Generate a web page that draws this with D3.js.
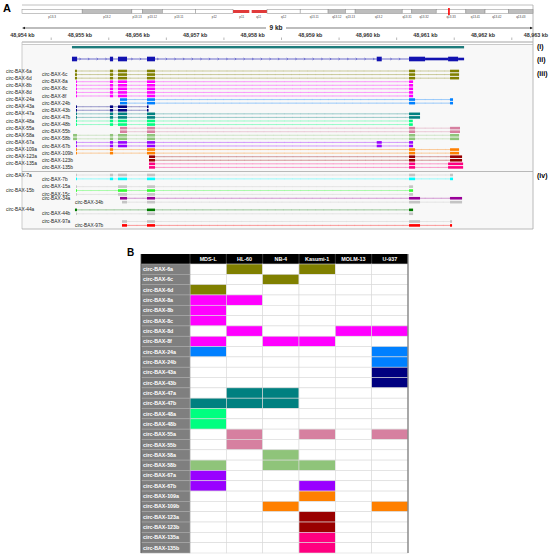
<!DOCTYPE html>
<html>
<head>
<meta charset="utf-8">
<script src="https://cdn.jsdelivr.net/npm/d3@7"></script>
<style>
body { margin: 0; background: #fff; }
svg text { font-family: Arial, "Liberation Sans", sans-serif; }
</style>
</head>
<body>
<div id="fig"></div>
<script>
// genomic window, chr19 (bp)
const base = 48954000;
const kbTicks = [48954, 48955, 48956, 48957, 48958, 48959, 48960, 48961, 48962, 48963];

// chr19 ideogram bands (Mb)
const bandNames = ['p13.3','p13.2','p13.13','p13.12','p13.11','p12','p11','q11','q12','q13.11','q13.12','q13.13','q13.2','q13.31','q13.32','q13.33','q13.41','q13.42','q13.43'];
const bandEnds = [6.9, 12.6, 13.8, 16.1, 19.9, 24.2, 26.2, 28.1, 31.9, 35.1, 37.1, 38.2, 43.6, 44.7, 47.5, 50.9, 53.1, 55.8, 58.6];
const bandStain = ['w','g','w','g','w','w','c','c','w','w','g','w','g','w','g','w','g','w','g'];
const baxMb = 48.96;

// BAX gene model, offsets from base (bp), 1 = coding, 0 = UTR
const geneBlocks = [[861, 950, 1], [1520, 1575, 1], [1660, 1817, 1], [2164, 2303, 1], [6154, 6241, 1],
                    [6715, 6993, 1], [6993, 7393, 0], [7393, 7567, 1], [7567, 7671, 0]];
const geneSpan = [861, 7671];

// circRNA isoforms (track iii), same order as table
const isoNames = ['circ-BAX-6a','circ-BAX-6c','circ-BAX-6d','circ-BAX-8a','circ-BAX-8b','circ-BAX-8c','circ-BAX-8d','circ-BAX-8f',
  'circ-BAX-24a','circ-BAX-24b','circ-BAX-43a','circ-BAX-43b','circ-BAX-47a','circ-BAX-47b','circ-BAX-48a','circ-BAX-48b',
  'circ-BAX-55a','circ-BAX-55b','circ-BAX-58a','circ-BAX-58b','circ-BAX-67a','circ-BAX-67b','circ-BAX-109a','circ-BAX-109b',
  'circ-BAX-123a','circ-BAX-123b','circ-BAX-135a','circ-BAX-135b'];
const groupIds = ['6','8','24','43','47','48','55','58','67','109','123','135'];
const groupColors = ['#808000','#ff00ff','#0080ff','#000080','#008080','#00ff80','#d680a0','#8fc47a','#9900ff','#ff8000','#990000','#ff0080'];
const groupExons = [
  [[913, 948], [1520, 1575], [1660, 1817], [2164, 2303], [6715, 6820], [7427, 7584]],
  [[931, 948], [1520, 1575], [1660, 1817], [2164, 2303], [6715, 6785]],
  [[1695, 1817], [2164, 2303], [6715, 6820], [7427, 7479]],
  [[931, 948], [1520, 1575], [1660, 1817], [2164, 2190]],
  [[931, 948], [1520, 1575], [1660, 1817], [2164, 2303], [6715, 6906]],
  [[931, 948], [1520, 1575], [1660, 1817], [2164, 2303], [6715, 6780]],
  [[1695, 1817], [2164, 2303], [6715, 6820], [7427, 7600]],
  [[880, 948], [1520, 1575], [1660, 1817], [2164, 2303], [6715, 6820], [7427, 7584]],
  [[931, 948], [1520, 1575], [1660, 1817], [2164, 2303], [6154, 6241], [6715, 6785]],
  [[931, 948], [1520, 1575], [2164, 2303], [6715, 6820], [7427, 7584]],
  [[2199, 2303], [6715, 6820], [7427, 7636]],
  [[2199, 2303], [6715, 6820], [7393, 7654]]
];

// track iv isoforms
const ivNames = ['circ-BAX-7a','circ-BAX-7b','circ-BAX-15a','circ-BAX-15b','circ-BAX-15c','circ-BAX-34a','circ-BAX-34b',
  'circ-BAX-44a','circ-BAX-44b','circ-BAX-97a','circ-BAX-97b'];
const ivGroup = ['7','7','15','15','15','34','34','44','44','97','97'];
const ivSub = [0, 1, 0, 1, 2, 0, 1, 0, 1, 0, 1];
const ivColors = ['#c4c4c4','#00ffff','#c4c4c4','#33ff33','#c4c4c4','#990099','#c4c4c4','#007a00','#c4c4c4','#c4c4c4','#ff0000'];
const ivExons = [
  [[931, 948], [1520, 1575], [1660, 1817], [2164, 2303], [6715, 6820], [7427, 7479]],
  [[931, 948], [1520, 1575], [1660, 1817], [2164, 2303], [6715, 6820], [7427, 7479]],
  [[931, 948], [1660, 1817], [2164, 2303], [6715, 6785]],
  [[931, 948], [1660, 1817], [2164, 2303], [6715, 6785]],
  [[931, 948], [1660, 1817], [2164, 2303], [6715, 6785]],
  [[1695, 1817], [2164, 2303], [6715, 6906], [7427, 7636]],
  [[1730, 1817], [2164, 2303], [6715, 6906], [7427, 7636]],
  [[913, 948], [2164, 2303], [6715, 6785]],
  [[931, 948], [2164, 2303], [6715, 6785]],
  [[1730, 1817], [2164, 2303], [6715, 6906], [7427, 7462]],
  [[1730, 1817], [2164, 2303], [6715, 6906], [7427, 7462]]
];

// panel B: detected isoforms per cell line
const cellLines = ['MDS-L','HL-60','NB-4','Kasumi-1','MOLM-13','U-937'];
const exprMDSL = ['6d','8a','8b','8c','8f','24a','47b','48a','48b','58b','67a','67b'];
const exprHL60 = ['6a','8a','8d','47a','47b','55a','55b'];
const exprNB4 = ['6c','8f','47a','47b','58a','58b','109b'];
const exprKasumi = ['6a','8f','55a','58b','67b','109a','123a','123b','135a','135b'];
const exprMOLM13 = ['8d'];
const exprU937 = ['8d','24a','24b','43a','43b','55a','109b'];
const expressed = [exprMDSL, exprHL60, exprNB4, exprKasumi, exprMOLM13, exprU937];

const w = 550, h = 556;
const svg = d3.select('#fig').append('svg').attr('width', w).attr('height', h);

const xg = d3.scaleLinear().domain([base, base + 9000]).range([22.4, 540.6]);
const xc = d3.scaleLinear().domain([0, 58.6]).range([22, 533]);
const gx = d => xg(base + d);
const isoSuffix = n => n.replace('circ-BAX-', '');
const groupOf = n => isoSuffix(n).replace(/[a-z]$/, '');
const colorOf = n => groupColors[groupIds.indexOf(groupOf(n))];

// ---------- panel A ----------
svg.append('text').attr('x', 3).attr('y', 12).attr('font-size', 11).attr('font-weight', 'bold').text('A');

// frame + track background
svg.append('rect').attr('x', 22).attr('y', 45).attr('width', 511).attr('height', 184).attr('fill', '#f8f8f8');
svg.append('line').attr('x1', 22).attr('x2', 533).attr('y1', 5).attr('y2', 5).attr('stroke', '#b0b0b0').attr('stroke-width', 0.8);
[42, 44.5].forEach((y, i) => svg.append('line').attr('x1', 22).attr('x2', 533).attr('y1', y).attr('y2', y)
  .attr('stroke', i ? '#c4c4c4' : '#9a9a9a').attr('stroke-width', 0.9));
svg.append('line').attr('x1', 533).attr('x2', 533).attr('y1', 5).attr('y2', 229).attr('stroke', '#a8a8a8').attr('stroke-width', 0.8);
svg.append('line').attr('x1', 22).attr('x2', 22).attr('y1', 42).attr('y2', 229).attr('stroke', '#c0c0c0').attr('stroke-width', 0.8);
svg.append('line').attr('x1', 22).attr('x2', 533).attr('y1', 229).attr('y2', 229).attr('stroke', '#a8a8a8').attr('stroke-width', 0.8);
svg.append('line').attr('x1', 22).attr('x2', 533).attr('y1', 171.5).attr('y2', 171.5).attr('stroke', '#a8a8a8').attr('stroke-width', 0.8);

// ideogram
const bands = bandNames.map((n, i) => ({name: n, start: i ? bandEnds[i - 1] : 0, end: bandEnds[i], stain: bandStain[i]}));
svg.append('g').selectAll('rect').data(bands).join('rect')
  .attr('x', d => xc(d.start) + (d.name === 'q11' ? 1.2 : 0))
  .attr('width', d => xc(d.end) - xc(d.start) - (d.name === 'p11' || d.name === 'q11' ? 1.2 : 0))
  .attr('y', d => d.stain === 'c' ? 10 : 9.5).attr('height', d => d.stain === 'c' ? 3 : 4)
  .attr('fill', d => d.stain === 'g' ? '#bdbdbd' : d.stain === 'c' ? '#e03a3a' : '#fff')
  .attr('stroke', d => d.stain === 'c' ? 'none' : '#8a8a8a').attr('stroke-width', 0.5);
svg.append('g').selectAll('text').data(bands).join('text')
  .attr('x', d => (xc(d.start) + xc(d.end)) / 2).attr('y', 17.5)
  .attr('text-anchor', 'middle').attr('font-size', 3).attr('fill', '#444').text(d => d.name);
svg.append('rect').attr('x', xc(baxMb) - 0.8).attr('y', 8).attr('width', 1.6).attr('height', 7).attr('fill', '#ff0000');

// 9 kb scale arrow
svg.append('line').attr('x1', xg(base) + 1).attr('x2', 532).attr('y1', 28).attr('y2', 28).attr('stroke', '#222').attr('stroke-width', 0.6);
svg.append('path').attr('d', `M${22},28 l3,-1.2 v2.4 z M${533},28 l-3,-1.2 v2.4 z`).attr('fill', '#222');
svg.append('rect').attr('x', 266).attr('y', 24).attr('width', 20).attr('height', 8).attr('fill', '#fff');
svg.append('text').attr('x', 276).attr('y', 30.2).attr('text-anchor', 'middle').attr('font-size', 6.5)
  .attr('font-weight', 'bold').attr('fill', '#222').text('9 kb');

// ruler (last label pulled in so it stays on the page)
const lastKb = kbTicks[kbTicks.length - 1];
svg.append('g').selectAll('text').data(kbTicks).join('text')
  .attr('x', d => d === lastKb ? 548 : xg(d * 1000)).attr('y', 37.4)
  .attr('text-anchor', d => d === lastKb ? 'end' : 'middle')
  .attr('font-size', 5.4).attr('font-weight', 'bold').attr('fill', '#333')
  .text(d => d3.format(',')(d) + ' kb');
svg.append('g').selectAll('line').data(kbTicks.slice(0, -1)).join('line')
  .attr('x1', d => xg(d * 1000 + 500)).attr('x2', d => xg(d * 1000 + 500))
  .attr('y1', 37.5).attr('y2', 40).attr('stroke', '#888').attr('stroke-width', 0.6);

// (i) region bar
svg.append('rect').attr('x', gx(geneSpan[0])).attr('width', gx(geneSpan[1]) - gx(geneSpan[0]))
  .attr('y', 46).attr('height', 2.4).attr('fill', '#1e7b7b');

// (ii) gene model
const geneY = 59, geneCol = '#1212b0';
svg.append('line').attr('x1', gx(geneSpan[0])).attr('x2', gx(geneSpan[1])).attr('y1', geneY).attr('y2', geneY)
  .attr('stroke', geneCol).attr('stroke-width', 0.6);
const inExon = p => geneBlocks.some(b => p >= b[0] - 40 && p <= b[1] + 40);
svg.append('g').selectAll('path').data(d3.range(1000, 7600, 150).filter(p => !inExon(p))).join('path')
  .attr('d', p => `M${gx(p) - 0.7},${geneY - 1.1} L${gx(p) + 0.7},${geneY} L${gx(p) - 0.7},${geneY + 1.1}`)
  .attr('fill', 'none').attr('stroke', geneCol).attr('stroke-width', 0.4);
svg.append('g').selectAll('rect').data(geneBlocks).join('rect')
  .attr('x', d => gx(d[0])).attr('width', d => gx(d[1]) - gx(d[0]))
  .attr('y', d => geneY - (d[2] ? 2.3 : 1.3)).attr('height', d => d[2] ? 4.6 : 2.6).attr('fill', geneCol);

// isoform row drawing helper
function drawRow(g, exons, y, color) {
  const s = exons[0][0], e = exons[exons.length - 1][1];
  g.append('line').attr('x1', gx(s)).attr('x2', gx(e)).attr('y1', y).attr('y2', y)
    .attr('stroke', color).attr('stroke-opacity', 0.38).attr('stroke-width', 1);
  g.selectAll(null).data(d3.range(s + 120, e - 60, 140)).join('line')
    .attr('x1', p => gx(p)).attr('x2', p => gx(p)).attr('y1', y - 0.8).attr('y2', y + 0.8)
    .attr('stroke', color).attr('stroke-opacity', 0.22).attr('stroke-width', 0.4);
  g.selectAll(null).data(exons).join('rect')
    .attr('x', d => gx(d[0])).attr('width', d => Math.max(0.8, gx(d[1]) - gx(d[0])))
    .attr('y', y - 1.3).attr('height', 2.6).attr('fill', color);
}

// (iii)
const isoY = d3.scalePoint().domain(isoNames).range([71, 167.4]);
const gIso = svg.append('g');
isoNames.forEach(n => {
  const gi = groupIds.indexOf(groupOf(n));
  drawRow(gIso.append('g'), groupExons[gi], isoY(n), groupColors[gi]);
});
gIso.append('g').selectAll('text').data(isoNames).join('text')
  .attr('x', (d, i) => i % 2 ? 42 : 6).attr('y', d => isoY(d) + 1.6)
  .attr('font-size', 4.8).attr('fill', '#222').text(d => d);

// (iv)
const ivGroupY = d3.scalePoint().domain(['7','15','34','44','97']).range([175, 221.5]);
const ivLabelX = [6, 42, 42, 6, 42, 42, 75, 6, 42, 42, 75];
const gIv = svg.append('g');
ivNames.forEach((n, i) => {
  drawRow(gIv.append('g'), ivExons[i], ivGroupY(ivGroup[i]) + ivSub[i] * 3.9, ivColors[i]);
});
gIv.append('g').selectAll('text').data(ivNames).join('text')
  .attr('x', (d, i) => ivLabelX[i]).attr('y', (d, i) => ivGroupY(ivGroup[i]) + ivSub[i] * 3.9 + 1.6)
  .attr('font-size', 4.8).attr('fill', '#222').text(d => d);

// track labels
[['(i)', 48.8], ['(ii)', 62], ['(iii)', 75.5], ['(iv)', 177.5]].forEach(t =>
  svg.append('text').attr('x', 537).attr('y', t[1]).attr('font-size', 7).attr('font-weight', 'bold').text(t[0]));

// ---------- panel B ----------
svg.append('text').attr('x', 127).attr('y', 256).attr('font-size', 10).attr('font-weight', 'bold').text('B');

const colX = d3.scaleBand().domain(cellLines).range([190, 408]);
const rowY = d3.scaleBand().domain(isoNames).range([264, 553]);
const tb = svg.append('g');

tb.append('rect').attr('x', 141).attr('y', 254).attr('width', 267).attr('height', 10).attr('fill', '#000');
tb.selectAll('.hdr').data(cellLines).join('text').attr('class', 'hdr')
  .attr('x', d => colX(d) + colX.bandwidth() / 2).attr('y', 261.4).attr('text-anchor', 'middle')
  .attr('font-size', 5.4).attr('font-weight', 'bold').attr('fill', '#fff').text(d => d);
tb.selectAll('.hsep').data(cellLines).join('line').attr('class', 'hsep')
  .attr('x1', d => colX(d)).attr('x2', d => colX(d)).attr('y1', 254).attr('y2', 264)
  .attr('stroke', '#777').attr('stroke-width', 0.5);

const cells = [];
isoNames.forEach(n => cellLines.forEach((c, j) => cells.push({iso: n, line: c, on: expressed[j].includes(isoSuffix(n))})));
tb.selectAll('.cell').data(cells).join('rect').attr('class', 'cell')
  .attr('x', d => colX(d.line)).attr('y', d => rowY(d.iso))
  .attr('width', colX.bandwidth()).attr('height', rowY.bandwidth())
  .attr('fill', d => d.on ? colorOf(d.iso) : '#fff')
  .attr('stroke', '#dadada').attr('stroke-width', 0.6);

tb.selectAll('.lab').data(isoNames).join('rect').attr('class', 'lab')
  .attr('x', 141).attr('y', d => rowY(d)).attr('width', 49).attr('height', rowY.bandwidth())
  .attr('fill', '#7f7f7f').attr('stroke', '#a8a8a8').attr('stroke-width', 0.6);
tb.selectAll('.labt').data(isoNames).join('text').attr('class', 'labt')
  .attr('x', 143).attr('y', d => rowY(d) + rowY.bandwidth() / 2 + 1.9)
  .attr('font-size', 5.3).attr('font-weight', 'bold').attr('fill', '#fff').text(d => d);

tb.append('line').attr('x1', 141).attr('x2', 141).attr('y1', 254).attr('y2', 553).attr('stroke', '#444').attr('stroke-width', 0.8);
tb.append('line').attr('x1', 408).attr('x2', 408).attr('y1', 254).attr('y2', 553).attr('stroke', '#808080').attr('stroke-width', 1.3);
</script>
</body>
</html>
